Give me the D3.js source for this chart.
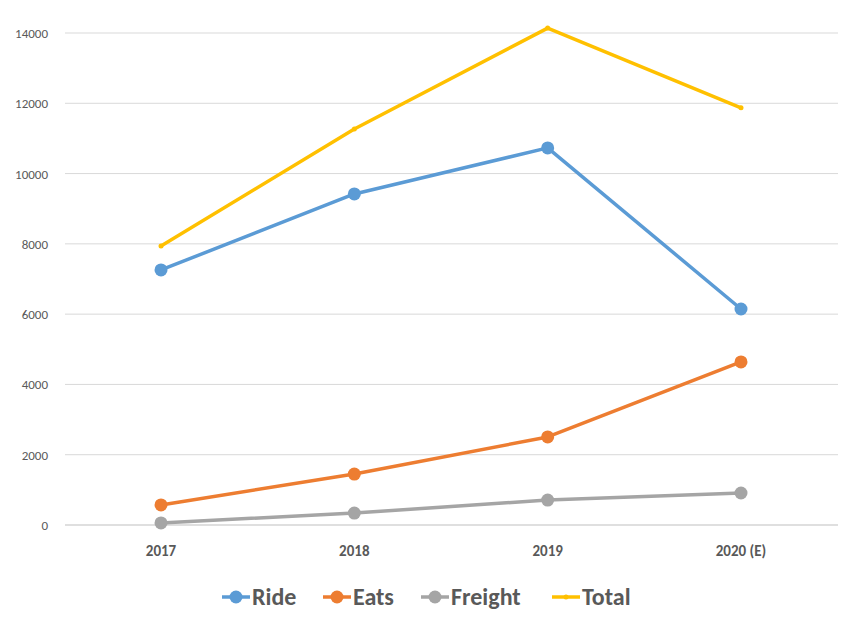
<!DOCTYPE html>
<html><head><meta charset="utf-8">
<script src="https://cdn.jsdelivr.net/npm/d3@7"></script>
<style>body{margin:0;background:#fff}text{font-family:Calibri,Carlito,"Liberation Sans",sans-serif}</style>
</head><body><svg id="c" width="854" height="622"></svg>
<script>
const years = ["2017", "2018", "2019", "2020 (E)"];
const ride = [7257, 9420, 10730, 6147];
const eats = [570, 1450, 2505, 4640];
const freight = [60, 340, 710, 910];
const total = [7940, 11270, 14140, 11870];
const yTicks = [0, 2000, 4000, 6000, 8000, 10000, 12000, 14000];

const series = [
  {name: "Ride", vals: ride, color: "#5B9BD5", r: 6.5},
  {name: "Eats", vals: eats, color: "#ED7D31", r: 6.5},
  {name: "Freight", vals: freight, color: "#A5A5A5", r: 6.5},
  {name: "Total", vals: total, color: "#FFC000", r: 2.5}
];

const svg = d3.select("#c");
const x = d3.scalePoint().domain(years).range([161, 741]);
const y = d3.scaleLinear().domain([0, 14000]).range([525, 33]);

svg.selectAll(".g").data(yTicks).join("line")
  .attr("x1", 65).attr("x2", 838)
  .attr("y1", d => y(d)).attr("y2", d => y(d))
  .attr("stroke", d => d === 0 ? "#bfbfbf" : "#d9d9d9").attr("stroke-width", 1);

svg.selectAll(".yl").data(yTicks).join("text")
  .attr("x", 48).attr("y", d => y(d) + 5)
  .attr("text-anchor", "end").attr("font-size", 13).attr("fill", "#595959")
  .text(d => d);

svg.selectAll(".xl").data(years).join("text")
  .attr("x", d => x(d)).attr("y", 556)
  .attr("text-anchor", "middle").attr("font-size", 15).attr("font-weight", "bold").attr("fill", "#595959")
  .text(d => d);

const line = d3.line().x((d, i) => x(years[i])).y(d => y(d));
series.forEach(s => {
  svg.append("path").attr("d", line(s.vals)).attr("fill", "none")
    .attr("stroke", s.color).attr("stroke-width", 3.5).attr("stroke-linejoin", "round");
  svg.selectAll(null).data(s.vals).join("circle")
    .attr("cx", (d, i) => x(years[i])).attr("cy", d => y(d)).attr("r", s.r).attr("fill", s.color);
});

// legend
const lx = [222, 323, 421, 552];
series.forEach((s, i) => {
  const g = svg.append("g").attr("transform", `translate(${lx[i]},597)`);
  g.append("line").attr("x1", 0).attr("x2", 28).attr("stroke", s.color).attr("stroke-width", 3.5);
  g.append("circle").attr("cx", 14).attr("r", s.r).attr("fill", s.color);
  g.append("text").attr("x", 30).attr("y", 8).attr("font-size", 24).attr("font-weight", "bold")
    .attr("fill", "#595959").text(s.name);
});
</script></body></html>
